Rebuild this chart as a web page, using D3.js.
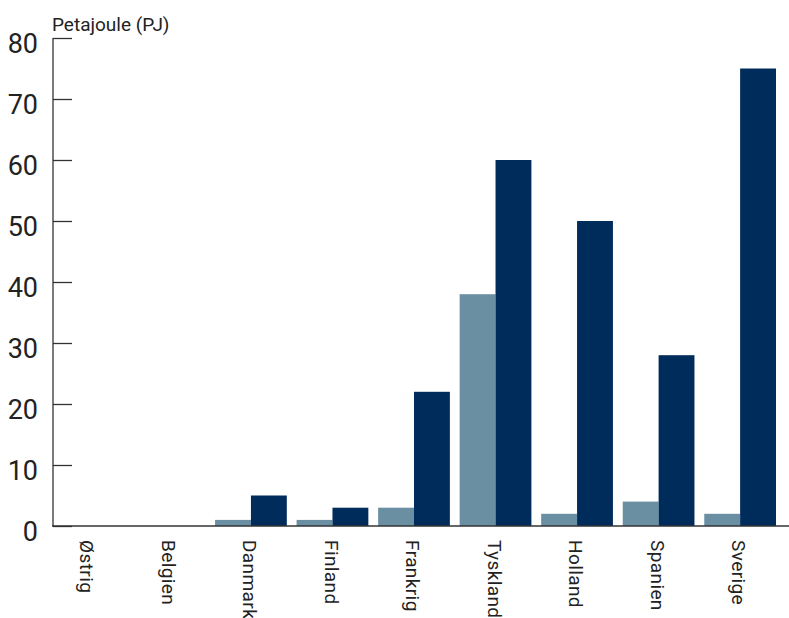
<!DOCTYPE html>
<html><head><meta charset="utf-8">
<script src="https://cdn.jsdelivr.net/npm/d3@7/dist/d3.min.js"></script>
<style>body{margin:0;background:#fff}svg{display:block}</style>
</head><body>
<svg id="c" width="789" height="618"></svg>
<script>
const categories = ["Østrig","Belgien","Danmark","Finland","Frankrig","Tyskland","Holland","Spanien","Sverige"];
const seriesA = [0, 0, 1, 1, 3, 38, 2, 4, 2];
const seriesB = [0, 0, 5, 3, 22, 60, 50, 28, 75];
const yTicks = [0,10,20,30,40,50,60,70,80];
const yLabel = "Petajoule (PJ)";

const svg = d3.select("#c");
const font = "Roboto, 'DejaVu Sans', sans-serif";
const y = d3.scaleLinear().domain([0,80]).range([526,38]);
const x = d3.scaleBand().domain(categories).range([52,776]).paddingInner(0.12).paddingOuter(0);
const xs = d3.scaleBand().domain(["a","b"]).range([0, x.bandwidth()]);

const g = svg.append("g");
categories.forEach((c,i)=>{
  const gx = x(c);
  [["a",seriesA[i],"#6b8fa2"],["b",seriesB[i],"#002c5c"]].forEach(([k,v,col])=>{
    g.append("rect").attr("x", gx+xs(k)).attr("width", xs.bandwidth())
      .attr("y", y(v)).attr("height", y(0)-y(v)).attr("fill", col);
  });
});

// y axis
const yAxis = d3.axisLeft(y).tickValues(yTicks).tickSize(-19).tickPadding(34).tickFormat(d3.format("d"));
const ya = svg.append("g").attr("transform","translate(53,0)").call(yAxis);
ya.select(".domain").attr("stroke","#333").attr("stroke-width",1.3).attr("d","M0,38V526");
ya.selectAll(".tick line").attr("stroke","#333").attr("stroke-width",1.3);
ya.selectAll(".tick text").attr("font-family",font).attr("font-size",27).attr("fill","#222")
  .attr("x",-15).attr("dy","0.52em");

// x axis
const xAxis = d3.axisBottom(x).tickSize(0).tickPadding(0);
const xa = svg.append("g").attr("transform","translate(0,526)").call(xAxis);
xa.select(".domain").attr("stroke","#333").attr("stroke-width",1.5).attr("d","M52,0H789");
xa.selectAll(".tick text").attr("font-family",font).attr("font-size",19).attr("letter-spacing","0.4px").attr("fill","#222")
  .attr("text-anchor","start").attr("transform","translate(-1,14) rotate(90)").attr("x",0).attr("y",0).attr("dy","0.35em");

svg.append("text").attr("x",52).attr("y",31).attr("font-family",font).attr("font-size",19)
  .attr("fill","#222").text(yLabel);
</script>
</body></html>
